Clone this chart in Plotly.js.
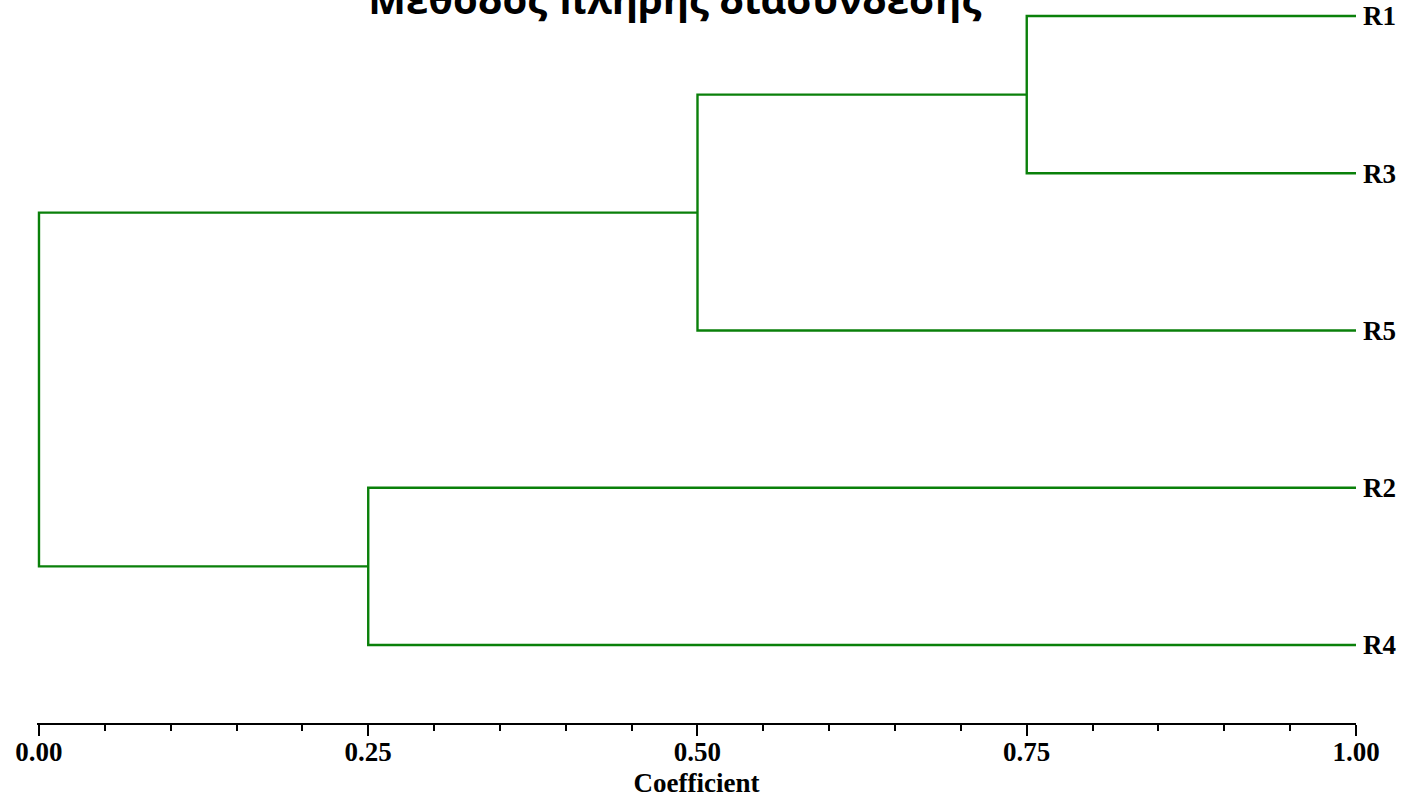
<!DOCTYPE html>
<html>
<head>
<meta charset="utf-8">
<script src="https://cdn.plot.ly/plotly-3.0.1.min.js"></script>
<style>html,body{margin:0;padding:0;background:#fff;}#chart{width:1403px;height:798px;}</style>
</head>
<body>
<div id="chart"></div>
<script>
// Leaves, top to bottom
const leaves = ['R1', 'R3', 'R5', 'R2', 'R4'];
// Merge steps: two clusters joined at a coefficient
const mergeA = ['R1', 'R1+R3', 'R2', 'R1+R3+R5'];
const mergeB = ['R3', 'R5', 'R4', 'R2+R4'];
const mergeCoef = [0.75, 0.50, 0.25, 0.00];
const xTicks = [0, 0.25, 0.5, 0.75, 1.0];
const titleText = 'Μέθοδος πλήρης διασύνδεσης';
const xTitle = 'Coefficient';

// leaf positions (bottom = 1)
const pos = {};
const coef = {};
leaves.forEach((l, i) => { pos[l] = leaves.length - i; coef[l] = 1.0; });

const traces = [];
const green = 'rgb(10,128,10)';
mergeA.forEach((a, i) => {
  const b = mergeB[i];
  const c = mergeCoef[i];
  traces.push({
    x: [coef[a], c, c, coef[b]],
    y: [pos[a], pos[a], pos[b], pos[b]],
    mode: 'lines', type: 'scatter',
    line: {color: green, width: 2.4},
    hoverinfo: 'skip', showlegend: false
  });
  const name = a + '+' + b;
  pos[name] = (pos[a] + pos[b]) / 2;
  coef[name] = c;
});

const layout = {
  width: 1403, height: 798,
  margin: {l: 37, r: 47, t: 0, b: 75},
  paper_bgcolor: '#fff', plot_bgcolor: '#fff',
  title: {
    text: '<b>' + titleText + '</b>',
    font: {family: 'Open Sans', size: 40, color: '#000'},
    x: 0.481, xref: 'container', xanchor: 'center',
    y: 1.003, yref: 'container', yanchor: 'middle'
  },
  xaxis: {
    range: [-0.0015, 1],
    tickvals: xTicks,
    tickformat: '.2f',
    ticks: 'outside', ticklen: 11, tickwidth: 2, tickcolor: '#000',
    ticklabelstandoff: -7,
    minor: {dtick: 0.05, ticks: 'outside', ticklen: 6, tickwidth: 2, tickcolor: '#000'},
    showline: true, linecolor: '#000', linewidth: 2,
    showgrid: false, zeroline: false,
    tickfont: {family: 'Liberation Serif', size: 27, color: '#000', weight: 'bold'},
    title: {text: '<b>' + xTitle + '</b>', font: {family: 'Liberation Serif', size: 27, color: '#000'}, standoff: 14}
  },
  yaxis: {
    range: [0.504, 5.102],
    side: 'right',
    tickvals: leaves.map(l => pos[l]),
    ticktext: leaves.map(l => '<b>' + l + '</b>'),
    ticks: '', showline: false, showgrid: false, zeroline: false,
    ticklabelstandoff: 6,
    tickfont: {family: 'Liberation Serif', size: 27, color: '#000'}
  }
};

Plotly.newPlot('chart', traces, layout, {displayModeBar: false, staticPlot: true});
</script>
</body>
</html>
